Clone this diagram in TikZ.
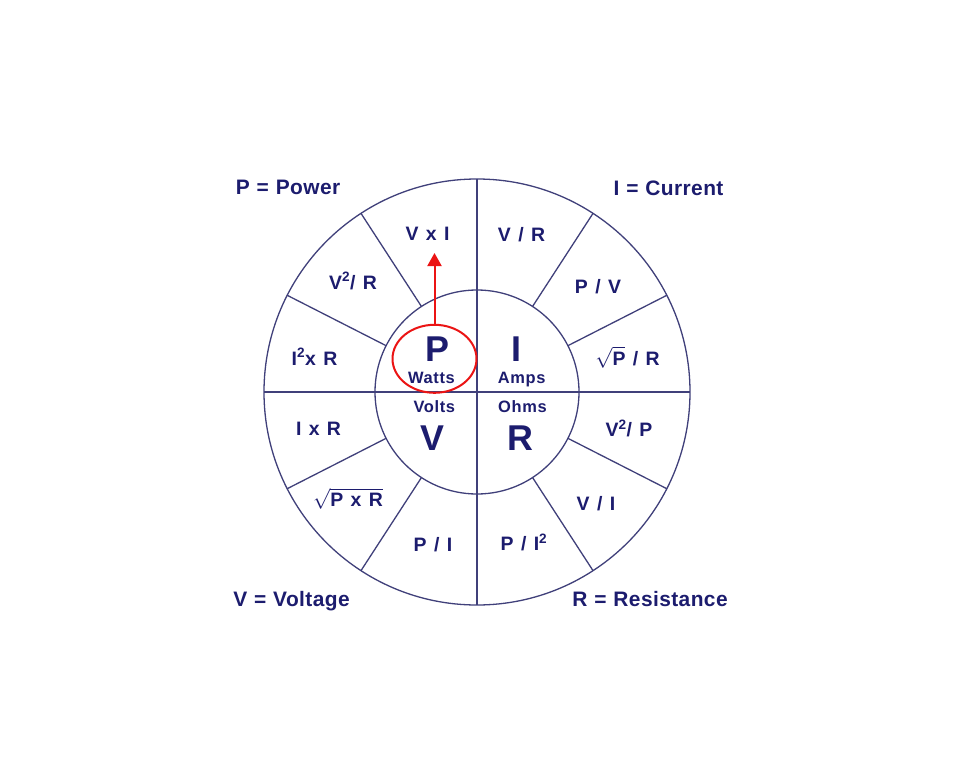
\documentclass[tikz,border=0pt]{standalone}
\usepackage{fontspec}
\setmainfont{Liberation Sans}
\newfontfamily\cellface{Liberation Sans}[LetterSpace=1]
\newfontfamily\unitface{Liberation Sans}[LetterSpace=4]
\newfontfamily\cornerface{Liberation Sans}[LetterSpace=2]
\usetikzlibrary{shapes.geometric,arrows.meta,calc}
\definecolor{navy}{RGB}{28,28,110}
\definecolor{rim}{RGB}{64,64,122}
\definecolor{hl}{RGB}{235,20,20}
\newcommand\rootof[1]{$\sqrt{\hbox{#1}}$}
\newcommand\cellfont{\cellface\fontsize{19.5}{22}\selectfont\bfseries\spaceskip=0.38em\relax}
\newcommand\unitfont{\unitface\fontsize{16.5}{18}\selectfont\bfseries}
\newcommand\cornerfont{\cornerface\fontsize{21}{24}\selectfont\bfseries\spaceskip=0.33em\relax}
\newcommand\bigfont{\fontsize{36}{40}\selectfont\bfseries}
\begin{document}
\begin{tikzpicture}[x=1bp,y=-1bp,
  ring/.style={circle,draw=rim,line width=1.3bp,inner sep=0,outer sep=0},
  spoke/.style={draw=rim,line width=1.3bp},
  cell/.style={text=navy,font=\cellfont,anchor=base,inner sep=0},
  big/.style={text=navy,font=\bigfont,anchor=base,inner sep=0},
  unit/.style={text=navy,font=\unitfont,anchor=base,inner sep=0},
  corner/.style={text=navy,font=\cornerfont,anchor=base,inner sep=0},
  hiloop/.style={ellipse,draw=hl,line width=2bp,minimum width=84bp,minimum height=68bp,inner sep=0,outer sep=0},
  pointer/.style={draw=hl,line width=2bp,-{Triangle[width=14bp,length=13bp]}}
]
\useasboundingbox[fill=white] (0,0) rectangle (955,782);
\coordinate (c) at (477,392);
\node[ring,minimum size=426bp] (outer) at (c) {};
\node[ring,minimum size=204bp] (inner) at (c) {};
\draw[spoke] (outer.north) -- (outer.south);
\draw[spoke] (outer.west) -- (outer.east);
\foreach \a in {27,57,123,153,207,237,303,333} \draw[spoke] (inner.\a) -- (outer.\a);
\fill[rim] (c) circle[radius=1.8bp];

% outer ring cells
\node[cell] (c1) at (427.5,240) {V x I};
\node[cell] (c2) at (521.5,241.5) {V / R};
\node[cell] (c3) at (353,289) {V\textsuperscript{2}/ R};
\node[cell] (c4) at (598,293) {P / V};
\node[cell] (c5) at (314.5,365) {I\textsuperscript{2}x R};
\node[cell] (c6) at (627.5,365) {\rootof{P} / R};
\node[cell] (c7) at (318.5,435.7) {I x R};
\node[cell] (c8) at (629,436.7) {V\textsuperscript{2}/ P};
\node[cell] (c9) at (348,506.7) {\rootof{P x R}};
\node[cell] (c10) at (596,510) {V / I};
\node[cell] (c11) at (433,551.7) {P / I};
\node[cell] (c12) at (524,550.7) {P / I\textsuperscript{2}};

% inner quadrants
\node[big] (bp) at (437.5,361.7) {P};
\node[big] (bi) at (516.7,361.7) {I};
\node[big] (bv) at (432.5,450) {V};
\node[big] (br) at (520,450) {R};
\node[unit] (uw) at (431.5,383.3) {Watts};
\node[unit] (ua) at (521.7,383) {Amps};
\node[unit] (uv) at (434.3,412.3) {Volts};
\node[unit] (uo) at (522.5,412) {Ohms};

% corner legends
\node[corner] (lp) at (288,194) {P = Power};
\node[corner] (li) at (668.5,195) {I = Current};
\node[corner] (lv) at (291.5,606) {V = Voltage};
\node[corner] (lr) at (650,606) {R = Resistance};

% highlight
\node[hiloop] (hot) at (434.5,358.8) {};
\coordinate (tip) at (434.5,253);
\draw[pointer] (hot.north) -- (tip);
\end{tikzpicture}
\end{document}
